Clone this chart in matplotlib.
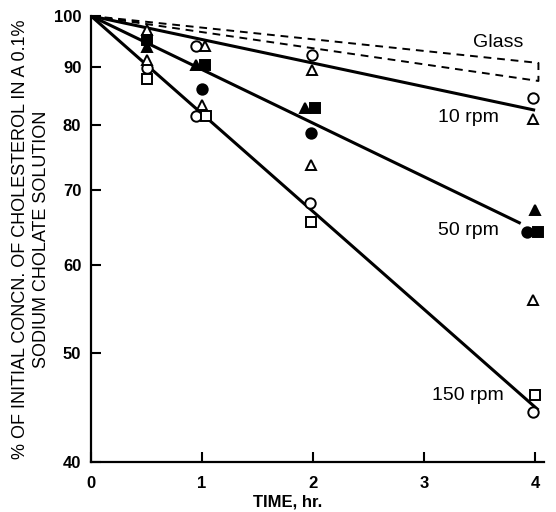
import matplotlib
matplotlib.use('Agg')
import matplotlib.pyplot as plt

# 10 rpm (open symbols)
t10_circ = [0.95, 1.99, 3.98]
v10_circ = [94.0, 92.3, 84.5]
t10_tri = [0.5, 1.03, 1.99, 3.98]
v10_tri = [97.2, 94.0, 89.5, 80.9]

# 50 rpm (filled symbols)
t50_circ = [1.0, 1.98, 3.93]
v50_circ = [86.1, 78.7, 64.2]
t50_tri = [0.5, 0.95, 1.93, 4.0]
v50_tri = [93.8, 90.4, 82.8, 67.1]
t50_sq = [0.5, 1.03, 2.02, 4.03]
v50_sq = [95.2, 90.4, 82.8, 64.2]

# 150 rpm (open symbols)
t150_circ = [0.5, 0.95, 1.97, 3.98]
v150_circ = [89.9, 81.4, 68.1, 44.3]
t150_tri = [0.5, 1.0, 1.98, 3.98]
v150_tri = [91.4, 83.3, 73.6, 55.8]
t150_sq = [0.5, 1.04, 1.98, 4.0]
v150_sq = [87.9, 81.4, 65.5, 45.9]

# fitted lines: start at (0, 100), end point per line
fit_names = ['10 rpm', '50 rpm', '150 rpm']
fit_end_t = [4.0, 3.87, 4.03]
fit_end_v = [82.4, 65.3, 44.5]

# glass controls (dashed, bracketed at the end)
glass_end_t = 4.03
glass_hi = 90.8
glass_lo = 87.5

yticks = [40, 50, 60, 70, 80, 90, 100]
xticks = [0, 1, 2, 3, 4]

txt_font = ['Liberation Sans Narrow', 'Liberation Sans', 'DejaVu Sans']
lab_font = ['Liberation Sans', 'DejaVu Sans']

fig = plt.figure(figsize=(5.56, 5.12), dpi=100)
ax = fig.add_axes([0.1637, 0.0977, 0.8147, 0.8711])
ax.set_yscale('log')

# fitted lines
for te, ve in zip(fit_end_t, fit_end_v):
    ax.plot([0, te], [100, ve], color='black', lw=2.2, zorder=2, solid_capstyle='butt')

# glass
ax.plot([0, glass_end_t, glass_end_t, 0], [100, glass_hi, glass_lo, 100],
        color='black', lw=1.4, ls=(0, (4, 3)), zorder=2)

ms = 7.5
mew = 1.4
opn = dict(ls='none', mfc='white', mec='black', mew=mew, ms=ms, zorder=3, clip_on=False)
fil = dict(ls='none', mfc='black', mec='black', mew=mew, ms=ms, zorder=3, clip_on=False)

ax.plot(t10_circ, v10_circ, marker='o', **opn)
ax.plot(t10_tri, v10_tri, marker='^', **opn)
ax.plot(t50_circ, v50_circ, marker='o', **fil)
ax.plot(t50_tri, v50_tri, marker='^', **fil)
ax.plot(t50_sq, v50_sq, marker='s', **fil)
ax.plot(t150_circ, v150_circ, marker='o', **opn)
ax.plot(t150_tri, v150_tri, marker='^', **opn)
ax.plot(t150_sq, v150_sq, marker='s', **opn)

# labels on curves
ax.text(3.67, 94.6, 'Glass', ha='center', va='center', fontsize=14, family=txt_font)
ax.text(3.40, 81.1, '10 rpm', ha='center', va='center', fontsize=14, family=txt_font)
ax.text(3.40, 64.4, '50 rpm', ha='center', va='center', fontsize=14, family=txt_font)
ax.text(3.39, 45.9, '150 rpm', ha='center', va='center', fontsize=14, family=txt_font)

ax.set_xlim(0, 4.08)
ax.set_ylim(40, 100)
ax.minorticks_off()
ax.set_yticks(yticks)
ax.set_yticklabels([str(v) for v in yticks])
ax.set_xticks(xticks)
ax.set_xticklabels([str(v) for v in xticks])
for lbl in ax.get_xticklabels() + ax.get_yticklabels():
    lbl.set_family(lab_font)
    lbl.set_fontweight('bold')
    lbl.set_fontsize(12)

ax.tick_params(direction='in', length=7, width=1.5, pad=7)
ax.tick_params(axis='x', pad=10)
for s in ['top', 'right']:
    ax.spines[s].set_visible(False)
for s in ['left', 'bottom']:
    ax.spines[s].set_linewidth(1.6)

ax.set_xlabel('TIME, hr.', fontsize=12, fontweight='bold', family=lab_font)
ax.xaxis.set_label_coords(0.433, -0.074)
ax.set_ylabel('% OF INITIAL CONCN. OF CHOLESTEROL IN A 0.1%\nSODIUM CHOLATE SOLUTION',
              fontsize=13, family=lab_font, linespacing=1.3)
ax.yaxis.set_label_coords(-0.09, 0.5)

fig.savefig('out.png', dpi=100)
